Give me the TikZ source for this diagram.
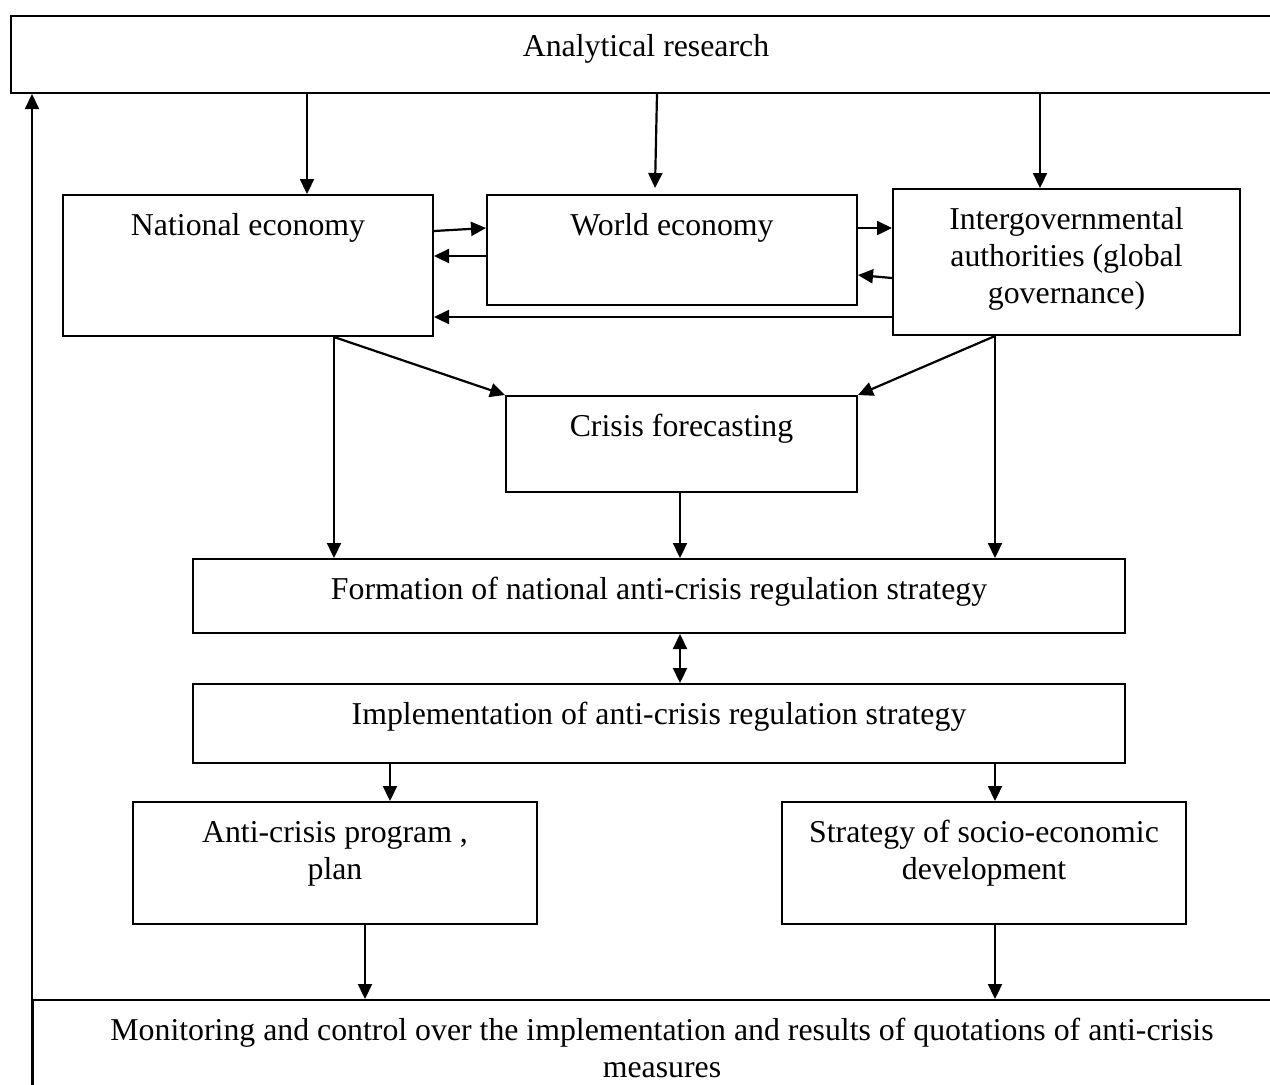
\documentclass[tikz,border=0pt]{standalone}
\usepackage{fontspec}
\setmainfont{Liberation Serif}
\usepackage{tikz}
\usetikzlibrary{arrows.meta,positioning,calc}

\begin{document}
\begin{tikzpicture}[x=0.5pt,y=-0.5pt,
    font=\fontsize{15.9pt}{18.5pt}\selectfont,
    box/.style={draw, line width=1pt, inner xsep=0pt, inner ysep=0pt,
      text height=20pt, align=center, anchor=north west},
    arr/.style={line width=1.1pt, -{Triangle[length=7.5pt,width=7pt]}},
    darr/.style={line width=1.1pt, {Triangle[length=7.5pt,width=7pt]}-{Triangle[length=7.5pt,width=7pt]}}]
  \useasboundingbox (0,0) rectangle (1270,1084);

  % Analytical research (top, open to the right)
  \node[box, minimum width=635pt, text depth=18.5pt] (ana) at (10,15) {Analytical research};

  % Economies and authorities
  \node[box, minimum width=185pt, text depth=50.5pt] (ne) at (62,194) {National economy};
  \node[box, minimum width=185pt, text depth=35pt] (we) at (486,194) {World economy};
  \node[box, minimum width=173.5pt, text height=57pt, text depth=16pt] (ig) at (892,188)
    {Intergovernmental\\authorities (global\\governance)};

  % Crisis forecasting
  \node[box, minimum width=175.5pt, text depth=28pt] (cf) at (505,395) {Crisis forecasting};

  % Strategy formation and implementation
  \node[box, minimum width=466pt, text depth=17pt] (form) at (192,558)
    {Formation of national anti-crisis regulation strategy};
  \node[box, minimum width=466pt, text depth=19.5pt] (impl) at (192,683)
    {Implementation of anti-crisis regulation strategy};

  % Programs
  \node[box, minimum width=202pt, text height=38.5pt, text depth=22.5pt] (prog) at (132,801)
    {Anti-crisis program ,\\plan};
  \node[box, minimum width=202pt, text height=38.5pt, text depth=22.5pt] (soc) at (781,801)
    {Strategy of socio-economic\\development};

  % Monitoring (bottom, open to the right and below)
  \node[box, minimum width=629pt, text height=38.5pt, text depth=21.5pt] (mon) at (32,999)
    {Monitoring and control over the implementation and results of quotations of anti-crisis\\measures};

  % from analytical research
  \draw[arr] (ana.south -| 307,0) -- (ne.north -| 307,0);
  \draw[arr] (ana.south -| 657,0) -- ([yshift=3pt]we.north -| 655,0);
  \draw[arr] (ana.south -| 1040,0) -- (ig.north -| 1040,0);

  % between the three upper boxes
  \draw[arr] (ne.east |- 0,231) -- (we.west |- 0,228);
  \draw[arr] (we.west |- 0,256) -- (ne.east |- 0,256);
  \draw[arr] (we.east |- 0,228) -- (ig.west |- 0,228);
  \draw[arr] (ig.west |- 0,278) -- (we.east |- 0,275);
  \draw[arr] (ig.west |- 0,317) -- (ne.east |- 0,317);

  % into forecasting and formation
  \draw[arr] (ne.south -| 334,0) -- (cf.north west);
  \draw[arr] (ig.south -| 995,0) -- (cf.north east);
  \draw[arr] (ne.south -| 334,0) -- (form.north -| 334,0);
  \draw[arr] (ig.south -| 995,0) -- (form.north -| 995,0);
  \draw[arr] (cf.south -| 680,0) -- (form.north -| 680,0);
  \draw[darr] (form.south -| 680,0) -- (impl.north -| 680,0);

  % implementation and programs
  \draw[arr] (impl.south -| 390,0) -- (prog.north -| 390,0);
  \draw[arr] (impl.south -| 995,0) -- (soc.north -| 995,0);
  \draw[arr] (prog.south -| 365,0) -- (mon.north -| 365,0);
  \draw[arr] (soc.south -| 995,0) -- (mon.north -| 995,0);

  % feedback to analytical research
  \draw[arr] (mon.south west) -- (mon.south west |- ana.south);
\end{tikzpicture}
\end{document}
